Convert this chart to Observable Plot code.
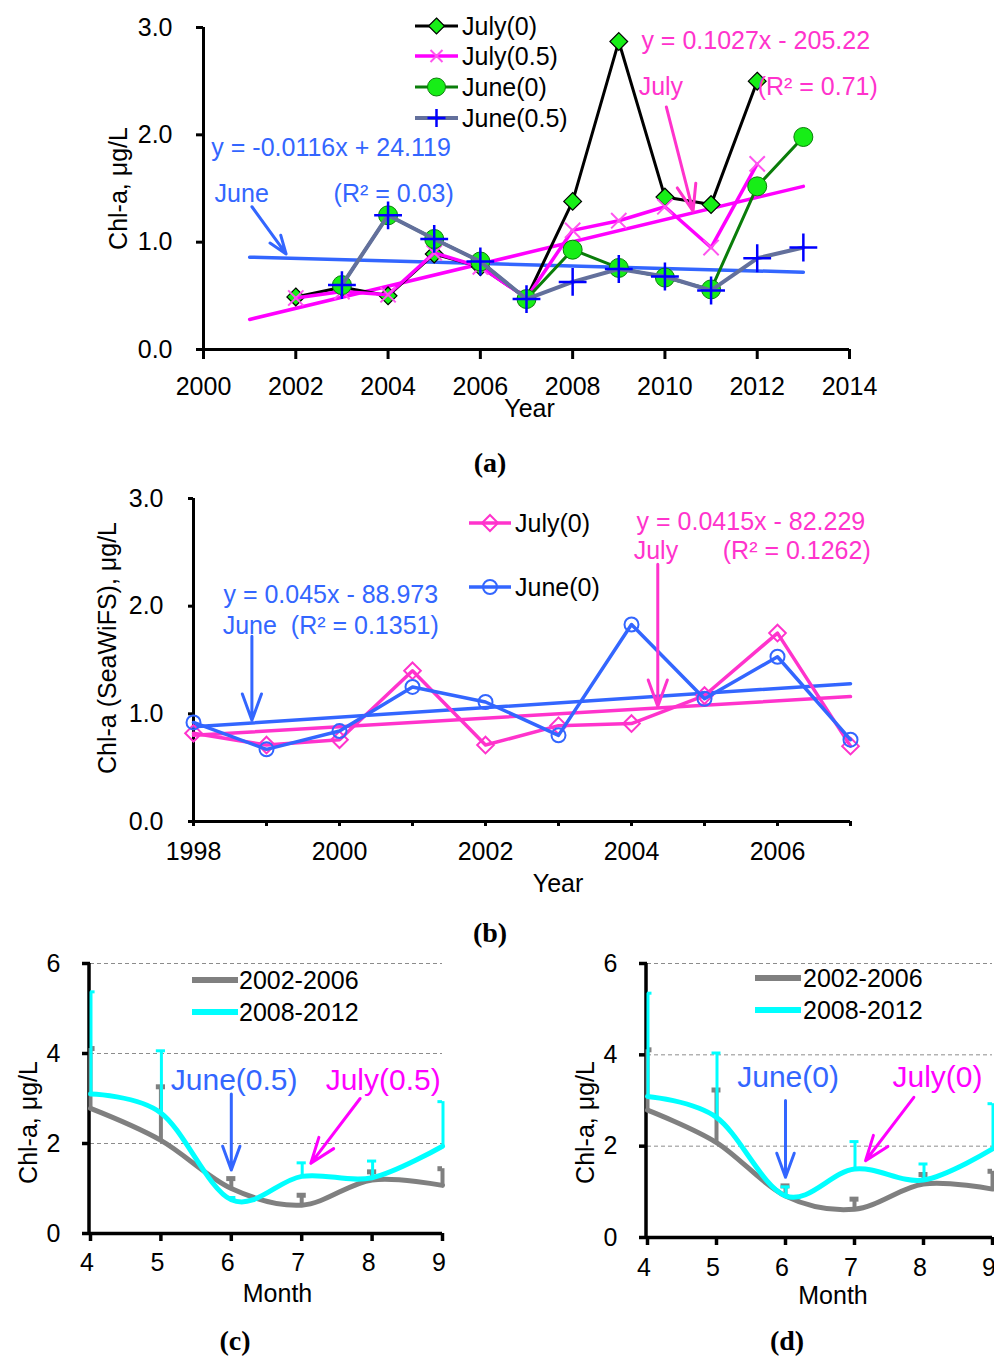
<!DOCTYPE html>
<html><head><meta charset="utf-8">
<script src="https://cdn.jsdelivr.net/npm/d3@7"></script>
<script src="https://cdn.jsdelivr.net/npm/@observablehq/plot@0.6"></script>
<style>
body{margin:0;background:#fff;width:994px;height:1357px;overflow:hidden;font-family:"Liberation Sans",Arial,Helvetica,sans-serif;}
#root{position:relative;width:994px;height:1357px;}
.panel{position:absolute;}
.cap{position:absolute;font-family:"Liberation Serif","Times New Roman",serif;font-weight:bold;font-size:28px;line-height:1;transform:translate(-50%,-50%);}
.lt{position:absolute;line-height:1;transform:translateY(-50%);white-space:nowrap;color:#000;}
.ls{position:absolute;}
</style></head>
<body><div id="root"></div>
<script>
// ---------- Panel (a) data ----------
const yearsA  = [2002,2003,2004,2005,2006,2007,2008,2009,2010,2011,2012,2013];
const july0A  = [0.49,0.58,0.50,0.89,0.77,0.48,1.38,2.87,1.42,1.35,2.50,null];
const july05A = [0.48,0.54,0.51,0.90,0.77,0.48,1.11,1.20,1.33,0.95,1.73,null];
const june0A  = [null,0.60,1.25,1.03,0.82,0.47,0.93,0.76,0.67,0.56,1.52,1.98];
const june05A = [null,0.60,1.25,1.03,0.82,0.47,0.63,0.75,0.68,0.55,0.85,0.95];
const trendYearsA = [2001, 2013];
const juneTrendA  = [0.86, 0.72];
const julyTrendA  = [0.28, 1.52];
const xTicksA = [2000,2002,2004,2006,2008,2010,2012,2014];
const yTicksA = [0,1,2,3];
const annotTextA  = ["y = 0.1027x - 205.22","July","(R² = 0.71)","y = -0.0116x + 24.119","June","(R² = 0.03)"];
const annotXA     = [2009.49, 2009.43, 2012.01, 2000.17, 2000.24, 2002.82];
const annotYA     = [2.87, 2.45, 2.45, 1.873, 1.453, 1.453];
const annotGroupA = ["July","July","July","June","June","June"];
const arrowGroupA = ["July","June"];
const arrowX1A = [2010.03, 2001.05], arrowY1A = [2.26, 1.33];
const arrowX2A = [2010.61, 2001.79], arrowY2A = [1.29, 0.89];
const legendA = ["July(0)","July(0.5)","June(0)","June(0.5)"];

// ---------- Panel (b) data ----------
const yearsB  = [1998,1999,2000,2001,2002,2003,2004,2005,2006,2007];
const july0B  = [0.82,0.71,0.76,1.40,0.71,0.89,0.91,1.17,1.75,0.70];
const june0B  = [0.92,0.67,0.84,1.25,1.11,0.80,1.83,1.14,1.53,0.76];
const trendYearsB = [1998, 2007];
const juneTrendB  = [0.88, 1.28];
const julyTrendB  = [0.80, 1.16];
const xTicksB = [1998,1999,2000,2001,2002,2003,2004,2005,2006,2007];
const yTicksB = [0,1,2,3];
const annotTextB  = ["y = 0.0415x - 82.229","July","(R² = 0.1262)","y = 0.045x - 88.973","June  (R² = 0.1351)"];
const annotXB     = [2004.07, 2004.03, 2005.25, 1998.41, 1998.40];
const annotYB     = [2.786, 2.508, 2.508, 2.108, 1.82];
const annotGroupB = ["July","July","July","June","June"];
const arrowGroupB = ["July","June"];
const arrowX1B = [2004.36, 1998.80], arrowY1B = [2.39, 1.72];
const arrowX2B = [2004.36, 1998.80], arrowY2B = [1.07, 0.94];
const legendB = ["July(0)","June(0)"];

// ---------- Panels (c) and (d) data ----------
const months = [4,5,6,7,8,9];
const xTicksCD = [4,5,6,7,8,9];
const yTicksCD = [0,2,4,6];
const gridCD = [2,4,6];
const seriesCD = ["2002-2006","2008-2012"];
const grayC    = [2.78,2.07,1.00,0.63,1.19,1.07];
const grayErrC = [4.11,3.26,1.22,0.85,1.37,1.44];
const cyanC    = [3.10,2.68,0.75,1.27,1.24,1.94];
const cyanErrC = [5.37,4.06,0.80,1.57,1.61,2.93];
const grayD    = [2.79,2.08,0.91,0.62,1.17,1.06];
const grayErrD = [4.11,3.23,1.13,0.84,1.38,1.45];
const cyanD    = [3.09,2.63,0.91,1.50,1.26,1.94];
const cyanErrD = [5.35,4.04,1.11,2.10,1.61,2.93];
const annotTextC = ["June(0.5)","July(0.5)"], annotXC = [5.14, 7.34], annotYC = [3.4, 3.4];
const annotTextD = ["June(0)","July(0)"],     annotXD = [5.30, 7.55], annotYD = [3.5, 3.5];
const annotGroupCD = ["June","July"];
const arrowX1C = [6.00, 7.83], arrowY1C = [3.10, 3.00], arrowX2C = [6.00, 7.13], arrowY2C = [1.41, 1.56];
const arrowX1D = [6.00, 7.86], arrowY1D = [3.00, 3.07], arrowX2D = [6.00, 7.16], arrowY2D = [1.32, 1.68];

// ---------- styling ----------
const FONT = '"Liberation Sans", Arial, Helvetica, sans-serif';
const C = {
  green: "#17ee17", dkgreen: "#0a7d0a", slate: "#63709c", plusBlue: "#0000ff",
  magenta: "#ff00ff", julyText: "#ff33cc", juneBlue: "#3366ff",
  pink: "#ff33cc", gray: "#808080", cyan: "#00ffff"
};
const groupColorA = {July: C.julyText, June: C.juneBlue};
const arrowColorA = {July: "#ff33cc", June: C.juneBlue};
const groupColorCD = {July: C.magenta, June: C.juneBlue};

const rows = (xs, ys) => xs.map((x, i) => ({x, y: ys[i]})).filter(d => d.y != null);
const errRows = (xs, lo, hi) => xs.map((x, i) => ({x, lo: lo[i], hi: hi[i]}));
const annRows = (t, xs, ys, g) => t.map((s, i) => ({text: s, x: xs[i], y: ys[i], g: g[i]}));
const arrRows = (x1, y1, x2, y2, g) => x1.map((v, i) => ({x1: v, y1: y1[i], x2: x2[i], y2: y2[i], g: g[i]}));

const root = document.getElementById("root");
function place(el, left, top) {
  const d = document.createElement("div");
  d.className = "panel"; d.style.left = left + "px"; d.style.top = top + "px";
  d.appendChild(el); root.appendChild(d);
}
function caption(txt, cx, cy) {
  const d = document.createElement("div"); d.className = "cap";
  d.style.left = cx + "px"; d.style.top = cy + "px"; d.textContent = txt; root.appendChild(d);
}
function legendRow(svgInner, sx, cy, sw, label, tx, fs) {
  const ns = "http://www.w3.org/2000/svg";
  const s = document.createElementNS(ns, "svg");
  s.setAttribute("width", sw); s.setAttribute("height", 24);
  s.setAttribute("class", "ls");
  s.style.position = "absolute"; s.style.left = sx + "px"; s.style.top = (cy - 12) + "px";
  s.innerHTML = svgInner; root.appendChild(s);
  const t = document.createElement("div"); t.className = "lt";
  t.style.left = tx + "px"; t.style.top = cy + "px"; t.style.fontSize = fs + "px";
  t.textContent = label; root.appendChild(t);
}
const yTitle = (txt, dx, dy) => Plot.text([txt], {frameAnchor: "left", textAnchor: "middle", lineAnchor: "middle", rotate: -90, dx, dy, fontSize: 25});
const xTitle = (txt, dx, dy) => Plot.text([txt], {frameAnchor: "bottom", textAnchor: "middle", lineAnchor: "middle", dx, dy, fontSize: 25});

// ---------- Panel (a) ----------
const plotA = Plot.plot({
  width: 900, height: 430,
  marginLeft: 203, marginRight: 51, marginTop: 27, marginBottom: 81,
  x: {domain: [2000, 2014], label: null},
  y: {domain: [0, 3], label: null},
  style: {fontFamily: FONT, fontSize: "25px", color: "#000", background: "transparent", overflow: "visible"},
  marks: [
    Plot.axisX(xTicksA, {tickSize: 10, tickPadding: 18, tickFormat: d => String(d), strokeWidth: 3}),
    Plot.axisY(yTicksA, {tickSize: 7, tickPadding: 24, tickFormat: d => d.toFixed(1), strokeWidth: 3}),
    Plot.ruleX([2000], {strokeWidth: 3}),
    Plot.ruleY([0], {strokeWidth: 3}),
    Plot.line(rows(trendYearsA, juneTrendA), {x: "x", y: "y", stroke: C.juneBlue, strokeWidth: 3.5}),
    Plot.line(rows(trendYearsA, julyTrendA), {x: "x", y: "y", stroke: C.magenta, strokeWidth: 3.5}),
    Plot.line(rows(yearsA, july0A), {x: "x", y: "y", stroke: "#000", strokeWidth: 3}),
    Plot.dot(rows(yearsA, july0A), {x: "x", y: "y", symbol: "diamond2", r: 8, fill: C.green, stroke: "#000", strokeWidth: 1.2}),
    Plot.line(rows(yearsA, july05A), {x: "x", y: "y", stroke: C.magenta, strokeWidth: 3.5}),
    Plot.dot(rows(yearsA, july05A), {x: "x", y: "y", symbol: "times", r: 7, stroke: "#ff55ee", strokeWidth: 2}),
    Plot.line(rows(yearsA, june0A), {x: "x", y: "y", stroke: C.dkgreen, strokeWidth: 3}),
    Plot.dot(rows(yearsA, june0A), {x: "x", y: "y", r: 9.5, fill: C.green, stroke: C.dkgreen, strokeWidth: 1}),
    Plot.line(rows(yearsA, june05A), {x: "x", y: "y", stroke: C.slate, strokeWidth: 4}),
    Plot.dot(rows(yearsA, june05A), {x: "x", y: "y", symbol: "plus", r: 9, stroke: C.plusBlue, strokeWidth: 2.5}),
    Plot.text(annRows(annotTextA, annotXA, annotYA, annotGroupA), {x: "x", y: "y", text: "text", textAnchor: "start", fill: d => groupColorA[d.g], fontSize: 25}),
    Plot.arrow(arrRows(arrowX1A, arrowY1A, arrowX2A, arrowY2A, arrowGroupA), {x1: "x1", y1: "y1", x2: "x2", y2: "y2", stroke: d => arrowColorA[d.g], strokeWidth: 3, headLength: 14, headAngle: 40}),
    yTitle("Chl-a, μg/L", -85, 0),
    xTitle("Year", 3, 59)
  ]
});
place(plotA, 0, 0);

// legend (a)
const legRowsA = [26, 56, 87, 118];
const legSwatchA = [
  `<line x1="0" y1="12" x2="43" y2="12" stroke="#000" stroke-width="3"/><path d="M21.5,4 L29.5,12 L21.5,20 L13.5,12 Z" fill="${C.green}" stroke="#000" stroke-width="1.2"/>`,
  `<line x1="0" y1="12" x2="43" y2="12" stroke="${C.magenta}" stroke-width="3.5"/><path d="M15.5,6 L27.5,18 M27.5,6 L15.5,18" stroke="#ff55ee" stroke-width="2"/>`,
  `<line x1="0" y1="12" x2="43" y2="12" stroke="${C.dkgreen}" stroke-width="3"/><circle cx="21.5" cy="12" r="9" fill="${C.green}" stroke="${C.dkgreen}" stroke-width="1"/>`,
  `<line x1="0" y1="12" x2="43" y2="12" stroke="${C.slate}" stroke-width="4"/><path d="M12.5,12 L30.5,12 M21.5,3 L21.5,21" stroke="${C.plusBlue}" stroke-width="2.5"/>`
];
legendA.forEach((lab, i) => legendRow(legSwatchA[i], 415, legRowsA[i], 44, lab, 462, 25));
caption("(a)", 490, 463);

// ---------- Panel (b) ----------
const plotB = Plot.plot({
  width: 900, height: 440,
  marginLeft: 193, marginRight: 50, marginTop: 28, marginBottom: 89,
  x: {domain: [1998, 2007], label: null},
  y: {domain: [0, 3], label: null},
  style: {fontFamily: FONT, fontSize: "25px", color: "#000", background: "transparent", overflow: "visible"},
  marks: [
    Plot.axisX(xTicksB, {tickSize: 5, tickPadding: 16, tickFormat: d => d % 2 === 0 ? String(d) : "", strokeWidth: 3}),
    Plot.axisY(yTicksB, {tickSize: 5, tickPadding: 25, tickFormat: d => d.toFixed(1), strokeWidth: 3}),
    Plot.ruleX([1998], {strokeWidth: 3}),
    Plot.ruleY([0], {strokeWidth: 3}),
    Plot.line(rows(trendYearsB, juneTrendB), {x: "x", y: "y", stroke: C.juneBlue, strokeWidth: 3.5}),
    Plot.line(rows(trendYearsB, julyTrendB), {x: "x", y: "y", stroke: C.pink, strokeWidth: 3.5}),
    Plot.line(rows(yearsB, july0B), {x: "x", y: "y", stroke: C.pink, strokeWidth: 3.5}),
    Plot.dot(rows(yearsB, july0B), {x: "x", y: "y", symbol: "diamond2", r: 7.5, fill: "none", stroke: C.pink, strokeWidth: 2}),
    Plot.line(rows(yearsB, june0B), {x: "x", y: "y", stroke: C.juneBlue, strokeWidth: 3.5}),
    Plot.dot(rows(yearsB, june0B), {x: "x", y: "y", r: 7, fill: "none", stroke: C.juneBlue, strokeWidth: 2}),
    Plot.text(annRows(annotTextB, annotXB, annotYB, annotGroupB), {x: "x", y: "y", text: "text", textAnchor: "start", fill: d => groupColorA[d.g], fontSize: 25}),
    Plot.arrow(arrRows(arrowX1B, arrowY1B, arrowX2B, arrowY2B, arrowGroupB), {x1: "x1", y1: "y1", x2: "x2", y2: "y2", stroke: d => arrowColorA[d.g], strokeWidth: 3, headLength: 14, headAngle: 40}),
    yTitle("Chl-a (SeaWiFS), μg/L", -86, -12),
    xTitle("Year", 36, 62)
  ]
});
place(plotB, 0, 470);

const legRowsB = [523, 587];
const legSwatchB = [
  `<line x1="0" y1="12" x2="42" y2="12" stroke="${C.pink}" stroke-width="3.5"/><path d="M21,4 L29,12 L21,20 L13,12 Z" fill="none" stroke="${C.pink}" stroke-width="2"/>`,
  `<line x1="0" y1="12" x2="42" y2="12" stroke="${C.juneBlue}" stroke-width="3.5"/><circle cx="21" cy="12" r="7" fill="none" stroke="${C.juneBlue}" stroke-width="2"/>`
];
legendB.forEach((lab, i) => legendRow(legSwatchB[i], 469, legRowsB[i], 42, lab, 515, 25));
caption("(b)", 490, 933);

// ---------- Panels (c) and (d) ----------
function monthPlot(o) {
  return Plot.plot({
    width: o.width, height: 390,
    marginLeft: o.ml, marginRight: o.mr, marginTop: 23, marginBottom: o.mb,
    x: {domain: [4, 9], label: null},
    y: {domain: [0, 6], label: null},
    style: {fontFamily: FONT, fontSize: "25px", color: "#000", background: "transparent", overflow: "visible"},
    marks: [
      Plot.ruleY(gridCD, {stroke: "#8c8c8c", strokeWidth: 1, strokeDasharray: "4,3"}),
      Plot.axisX(xTicksCD, {tickSize: 8, tickFormat: () => "", strokeWidth: 3.5}),
      Plot.axisX(xTicksCD, {tickSize: 0, tickPadding: 8 + o.xpad, dx: -3.5, tickFormat: d => String(d)}),
      Plot.axisY(yTicksCD, {tickSize: 8, tickPadding: 22, tickFormat: d => String(d), strokeWidth: 3.5}),
      Plot.ruleX([4], {strokeWidth: 3.5, dx: -1.5}),
      Plot.ruleY([0], {strokeWidth: 3.5}),
      Plot.ruleX(errRows(months, o.gray, o.grayErr), {x: "x", y1: "lo", y2: "hi", stroke: C.gray, strokeWidth: 4}),
      Plot.ruleY(errRows(months, o.gray, o.grayErr), {y: "hi", x1: d => d.x - 0.065, x2: d => d.x + 0.065, stroke: C.gray, strokeWidth: 5, clip: true}),
      Plot.line(rows(months, o.gray), {x: "x", y: "y", stroke: C.gray, strokeWidth: 5, curve: "cardinal"}),
      Plot.ruleX(errRows(months, o.cyan, o.cyanErr), {x: "x", y1: "lo", y2: "hi", stroke: C.cyan, strokeWidth: 3, dx: 0.5}),
      Plot.ruleY(errRows(months, o.cyan, o.cyanErr), {y: "hi", x1: d => d.x - 0.065, x2: d => d.x + 0.065, stroke: C.cyan, strokeWidth: 3, clip: true}),
      Plot.line(rows(months, o.cyan), {x: "x", y: "y", stroke: C.cyan, strokeWidth: 5, curve: "cardinal"}),
      Plot.text(annRows(o.annText, o.annX, o.annY, annotGroupCD), {x: "x", y: "y", text: "text", textAnchor: "start", fill: d => groupColorCD[d.g], fontSize: 30}),
      Plot.arrow(arrRows(o.ax1, o.ay1, o.ax2, o.ay2, annotGroupCD), {x1: "x1", y1: "y1", x2: "x2", y2: "y2", stroke: d => groupColorCD[d.g], strokeWidth: 3, headLength: 14, headAngle: 40}),
      yTitle("Chl-a, μg/L", -62, o.ydy),
      xTitle("Month", o.mdx, o.mdy)
    ]
  });
}
const plotC = monthPlot({width: 480, ml: 90, mr: 38, mb: 97, xpad: 12, gray: grayC, grayErr: grayErrC, cyan: cyanC, cyanErr: cyanErrC,
  annText: annotTextC, annX: annotXC, annY: annotYC, ax1: arrowX1C, ay1: arrowY1C, ax2: arrowX2C, ay2: arrowY2C, ydy: 24, mdy: 60, mdx: 11});
place(plotC, 0, 940);
const plotD = monthPlot({width: 454, ml: 107, mr: 2, mb: 93, xpad: 13, gray: grayD, grayErr: grayErrD, cyan: cyanD, cyanErr: cyanErrD,
  annText: annotTextD, annX: annotXD, annY: annotYD, ax1: arrowX1D, ay1: arrowY1D, ax2: arrowX2D, ay2: arrowY2D, ydy: 22, mdy: 58, mdx: 13});
place(plotD, 540, 940);

const swCD = [
  `<line x1="0" y1="12" x2="46" y2="12" stroke="${C.gray}" stroke-width="6"/>`,
  `<line x1="0" y1="12" x2="46" y2="12" stroke="${C.cyan}" stroke-width="6"/>`
];
seriesCD.forEach((lab, i) => legendRow(swCD[i], 192, [980, 1012][i], 46, lab, 239, 25));
seriesCD.forEach((lab, i) => legendRow(swCD[i], 755, [978, 1010][i], 46, lab, 803, 25));
caption("(c)", 235, 1341);
caption("(d)", 787, 1341);
</script>
</body></html>
